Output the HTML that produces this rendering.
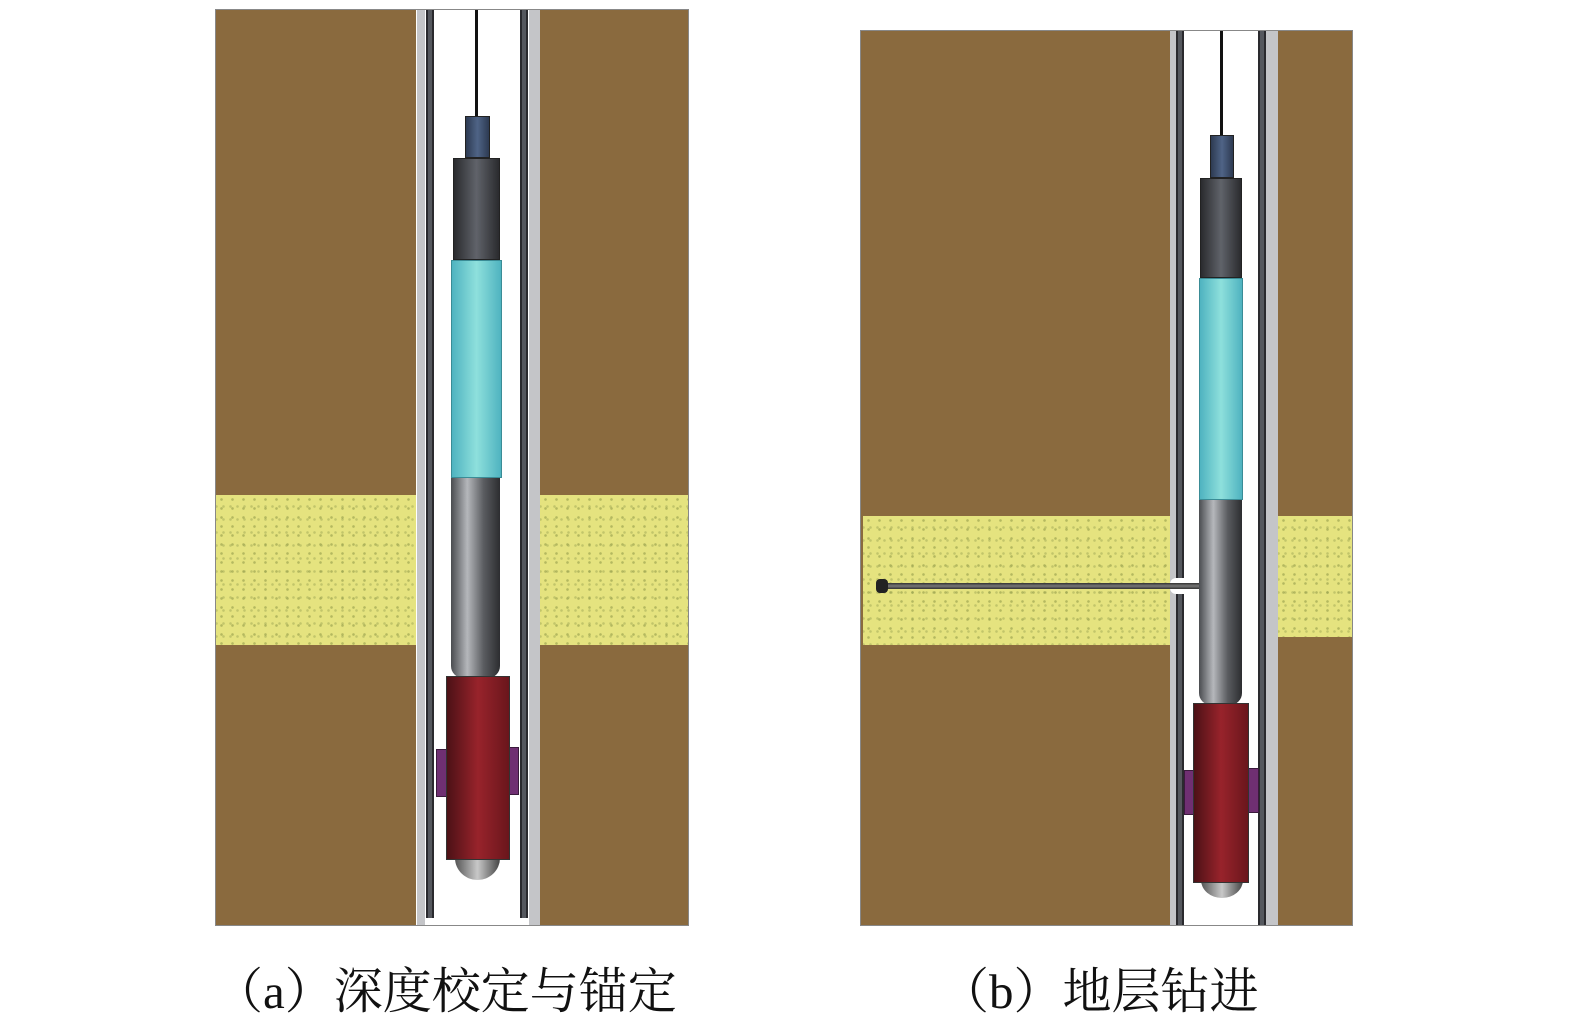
<!DOCTYPE html><html><head><meta charset="utf-8"><style>
body{margin:0;width:1575px;height:1033px;background:#fff;position:relative;overflow:hidden}
div{position:absolute;box-sizing:border-box}
.br{background:#8A6A3E}
.ye{background-color:#E5E37F;background-image:radial-gradient(circle,rgba(140,150,70,.55) 1px,transparent 1.6px),radial-gradient(circle,rgba(150,160,80,.45) 1px,transparent 1.6px);background-size:11px 9px,7px 13px;background-position:0 0,4px 5px}
.lg{background:#C4C5C8}
.dk{background:#55585E;border-left:2px solid #2a2a2e;border-right:2px solid #2a2a2e}
.cab{background:#111}
.con{background:linear-gradient(90deg,#2d3a52,#4f6486,#2d3a52);border:1px solid #222}
.body{background:linear-gradient(90deg,#2a2b2e,#60636a,#2a2b2e);border:1px solid #222}
.cy{background:linear-gradient(90deg,#4fb3c0,#8ee0dc,#4fb3c0);border:1px solid #3a8c96}
.gr{background:linear-gradient(90deg,#4a4c50,#b5b7bb,#5a5c60,#2c2d30);border-radius:0 0 12px 12px}
.rd{background:linear-gradient(90deg,#4c1116,#98232b,#6a161c);border:1px solid #333}
.pu{background:#6f2f72;border:1px solid #3a1a3c}
.nose{background:linear-gradient(90deg,#555,#c8c8c8,#444);border-radius:0 0 50% 50%/0 0 100% 100%}
.cap{font-family:"Liberation Serif","Noto Serif CJK SC",serif;font-size:49px;color:#111;top:953px;white-space:nowrap}
</style></head><body>
<!-- panel a -->
<div style="left:215px;top:9px;width:474px;height:917px;border:1px solid #888;background:#fff"></div>
<div class="br" style="left:216px;top:10px;width:200px;height:915px"></div>
<div class="ye" style="left:216px;top:495px;width:200px;height:150px"></div>
<div class="br" style="left:540px;top:10px;width:148px;height:915px"></div>
<div class="ye" style="left:540px;top:495px;width:148px;height:150px"></div>
<div class="lg" style="left:417px;top:10px;width:8px;height:915px"></div>
<div class="dk" style="left:426px;top:10px;width:8px;height:908px"></div>
<div class="dk" style="left:520px;top:10px;width:8px;height:908px"></div>
<div class="lg" style="left:529px;top:10px;width:11px;height:915px"></div>
<div class="cab" style="left:475px;top:10px;width:3px;height:107px"></div>
<div class="con" style="left:465px;top:116px;width:25px;height:42px"></div>
<div class="body" style="left:453px;top:158px;width:47px;height:102px"></div>
<div class="cy" style="left:451px;top:260px;width:51px;height:218px"></div>
<div class="gr" style="left:451px;top:478px;width:49px;height:200px"></div>
<div class="pu" style="left:436px;top:749px;width:12px;height:48px"></div>
<div class="pu" style="left:508px;top:747px;width:11px;height:48px"></div>
<div class="nose" style="left:455px;top:858px;width:45px;height:22px"></div>
<div class="rd" style="left:446px;top:676px;width:64px;height:184px"></div>
<!-- panel b -->
<div style="left:860px;top:30px;width:493px;height:896px;border:1px solid #888;background:#fff"></div>
<div class="br" style="left:861px;top:31px;width:309px;height:894px"></div>
<div class="ye" style="left:863px;top:516px;width:307px;height:129px"></div>
<div class="br" style="left:1278px;top:31px;width:74px;height:894px"></div>
<div class="ye" style="left:1278px;top:516px;width:74px;height:121px"></div>
<div class="lg" style="left:1170px;top:31px;width:6px;height:894px"></div>
<div class="dk" style="left:1176px;top:31px;width:8px;height:894px"></div>
<div class="dk" style="left:1258px;top:31px;width:8px;height:894px"></div>
<div class="lg" style="left:1266px;top:31px;width:12px;height:894px"></div>
<div style="left:1170px;top:578px;width:32px;height:16px;background:#fff;border-radius:6px"></div>
<div style="left:880px;top:583px;width:322px;height:6px;background:linear-gradient(#333,#777,#333)"></div>
<div style="left:876px;top:579px;width:12px;height:14px;background:#222;border-radius:4px"></div>
<div class="cab" style="left:1220px;top:31px;width:3px;height:105px"></div>
<div class="con" style="left:1210px;top:135px;width:24px;height:43px"></div>
<div class="body" style="left:1200px;top:178px;width:42px;height:100px"></div>
<div class="cy" style="left:1199px;top:278px;width:44px;height:222px"></div>
<div class="gr" style="left:1199px;top:500px;width:43px;height:205px"></div>
<div class="pu" style="left:1184px;top:770px;width:11px;height:45px"></div>
<div class="pu" style="left:1248px;top:768px;width:11px;height:45px"></div>
<div class="nose" style="left:1201px;top:880px;width:42px;height:18px"></div>
<div class="rd" style="left:1193px;top:703px;width:56px;height:180px"></div>
<!-- captions -->
<div class="cap" style="left:214px">（a）深度校定与锚定</div>
<div class="cap" style="left:940px">（b）地层钻进</div>
</body></html>
